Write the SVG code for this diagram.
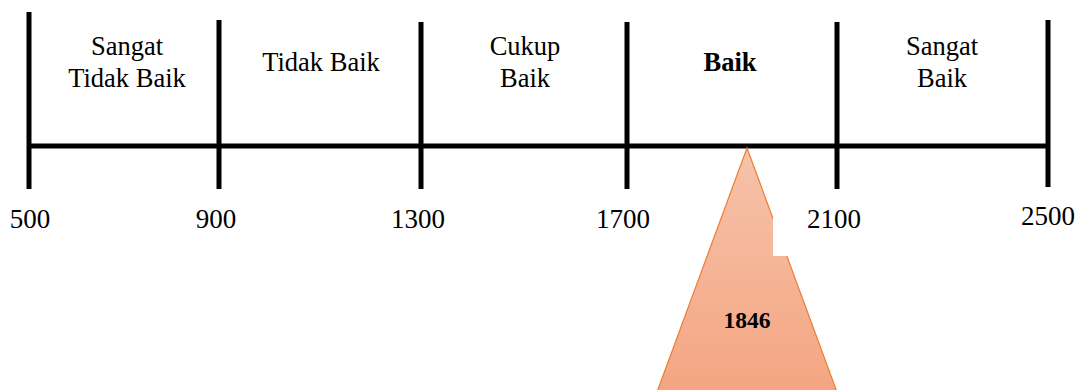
<svg xmlns="http://www.w3.org/2000/svg" width="1083" height="390" viewBox="0 0 1083 390">
<style>
.ln{stroke:#000;stroke-width:5;fill:none}
.lbl{font-family:"Liberation Serif","Times New Roman",serif;font-size:26.5px;fill:#000;text-anchor:middle}
.num{font-family:"Liberation Serif","Times New Roman",serif;font-size:27px;fill:#000;text-anchor:middle}
.b{font-weight:bold}
</style>
<defs>
<linearGradient id="g" x1="0" y1="0" x2="0" y2="1">
<stop offset="0" stop-color="#F6C3AA"/>
<stop offset="1" stop-color="#F4A582"/>
</linearGradient>
</defs>
<rect width="1083" height="390" fill="#fff"/>
<g id="scale">
<line class="ln" x1="29" y1="12" x2="29" y2="189"/>
<line class="ln" x1="219" y1="20" x2="219" y2="189"/>
<line class="ln" x1="421" y1="22" x2="421" y2="189"/>
<line class="ln" x1="627" y1="22" x2="627" y2="189"/>
<line class="ln" x1="837" y1="22" x2="837" y2="189"/>
<line class="ln" x1="1048" y1="20" x2="1048" y2="187"/>
<line class="ln" x1="29" y1="146" x2="1048" y2="146"/>
</g>
<g id="labels">
<text class="lbl" x="127" y="55">Sangat</text>
<text class="lbl" x="127" y="87">Tidak Baik</text>
<text class="lbl" x="321" y="71">Tidak Baik</text>
<text class="lbl" x="525" y="55">Cukup</text>
<text class="lbl" x="525" y="87">Baik</text>
<text class="lbl b" x="730" y="71">Baik</text>
<text class="lbl" x="942" y="55">Sangat</text>
<text class="lbl" x="942" y="87">Baik</text>
</g>
<g id="numbers">
<text class="num" x="30" y="228">500</text>
<text class="num" x="216" y="228">900</text>
<text class="num" x="418" y="228">1300</text>
<text class="num" x="623" y="228">1700</text>
<text class="num" x="834" y="228">2100</text>
<text class="num" x="1048" y="225">2500</text>
</g>
<g id="marker">
<polygon points="747,148 837,392 657,392" fill="url(#g)" stroke="#ED7D31" stroke-width="1.2"/>
<rect x="773" y="205" width="17" height="51" fill="#fff"/>
<text class="num b" x="747" y="328" style="font-size:23.5px">1846</text>
</g>
</svg>
